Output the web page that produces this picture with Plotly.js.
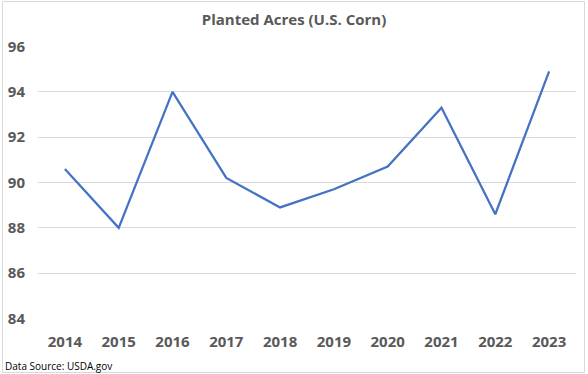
<!DOCTYPE html>
<html>
<head>
<meta charset="utf-8">
<script src="https://cdn.plot.ly/plotly-3.0.1.min.js"></script>
<style>
  html, body { margin: 0; padding: 0; background: #ffffff; }
  #chart { width: 588px; height: 374px; }
</style>
</head>
<body>
<div id="chart"></div>
<script>
const years = ["2014", "2015", "2016", "2017", "2018", "2019", "2020", "2021", "2022", "2023"];
const plantedAcres = [90.6, 88.0, 94.0, 90.2, 88.9, 89.7, 90.7, 93.3, 88.6, 94.9];
const yTicks = [84, 86, 88, 90, 92, 94, 96];

const W = 588, H = 374;
const m = { l: 38, r: 12, t: 46, b: 55 };
const pw = W - m.l - m.r, ph = H - m.t - m.b;
const px = v => (v - m.l) / pw;
const py = v => (H - m.b - v) / ph;

const trace = {
  x: years,
  y: plantedAcres,
  type: 'scatter',
  mode: 'lines',
  line: { color: '#4472C4', width: 2.25 },
  hoverinfo: 'x+y'
};

const tickFont = { family: 'Open Sans, sans-serif', size: 15, color: '#595959', weight: 'bold' };

const layout = {
  width: W, height: H,
  margin: m,
  paper_bgcolor: '#ffffff',
  plot_bgcolor: '#ffffff',
  showlegend: false,
  title: {
    text: '<b>Planted Acres (U.S. Corn)</b>',
    font: { family: 'Open Sans, sans-serif', size: 15, color: '#595959' },
    x: 0.5, xanchor: 'center',
    y: 1 - 20 / H, yanchor: 'middle', yref: 'container'
  },
  xaxis: {
    type: 'category',
    range: [-0.5, years.length - 0.5],
    showgrid: false,
    zeroline: false,
    showline: false,
    ticks: '',
    tickfont: tickFont,
    ticklabelstandoff: 12,
    fixedrange: true
  },
  yaxis: {
    range: [83.98, 96.02],
    tickvals: yTicks,
    ticktext: yTicks.map(String),
    showgrid: true,
    gridcolor: '#d9d9d9',
    gridwidth: 1,
    zeroline: false,
    showline: false,
    ticks: '',
    tickfont: tickFont,
    ticklabelstandoff: 12,
    fixedrange: true
  },
  annotations: [{
    text: 'Data Source: USDA.gov',
    xref: 'paper', yref: 'paper',
    x: px(3), y: py(366),
    xanchor: 'left', yanchor: 'middle',
    showarrow: false,
    font: { family: 'Open Sans, sans-serif', size: 10, color: '#000000' }
  }],
  shapes: [{
    type: 'rect',
    xref: 'paper', yref: 'paper',
    x0: px(2.5), x1: px(584.5), y0: py(372.5), y1: py(1.5),
    line: { color: '#d9d9d9', width: 1 },
    fillcolor: 'rgba(0,0,0,0)',
    layer: 'below'
  }]
};

Plotly.newPlot('chart', [trace], layout, { displayModeBar: false, staticPlot: true });
</script>
</body>
</html>
